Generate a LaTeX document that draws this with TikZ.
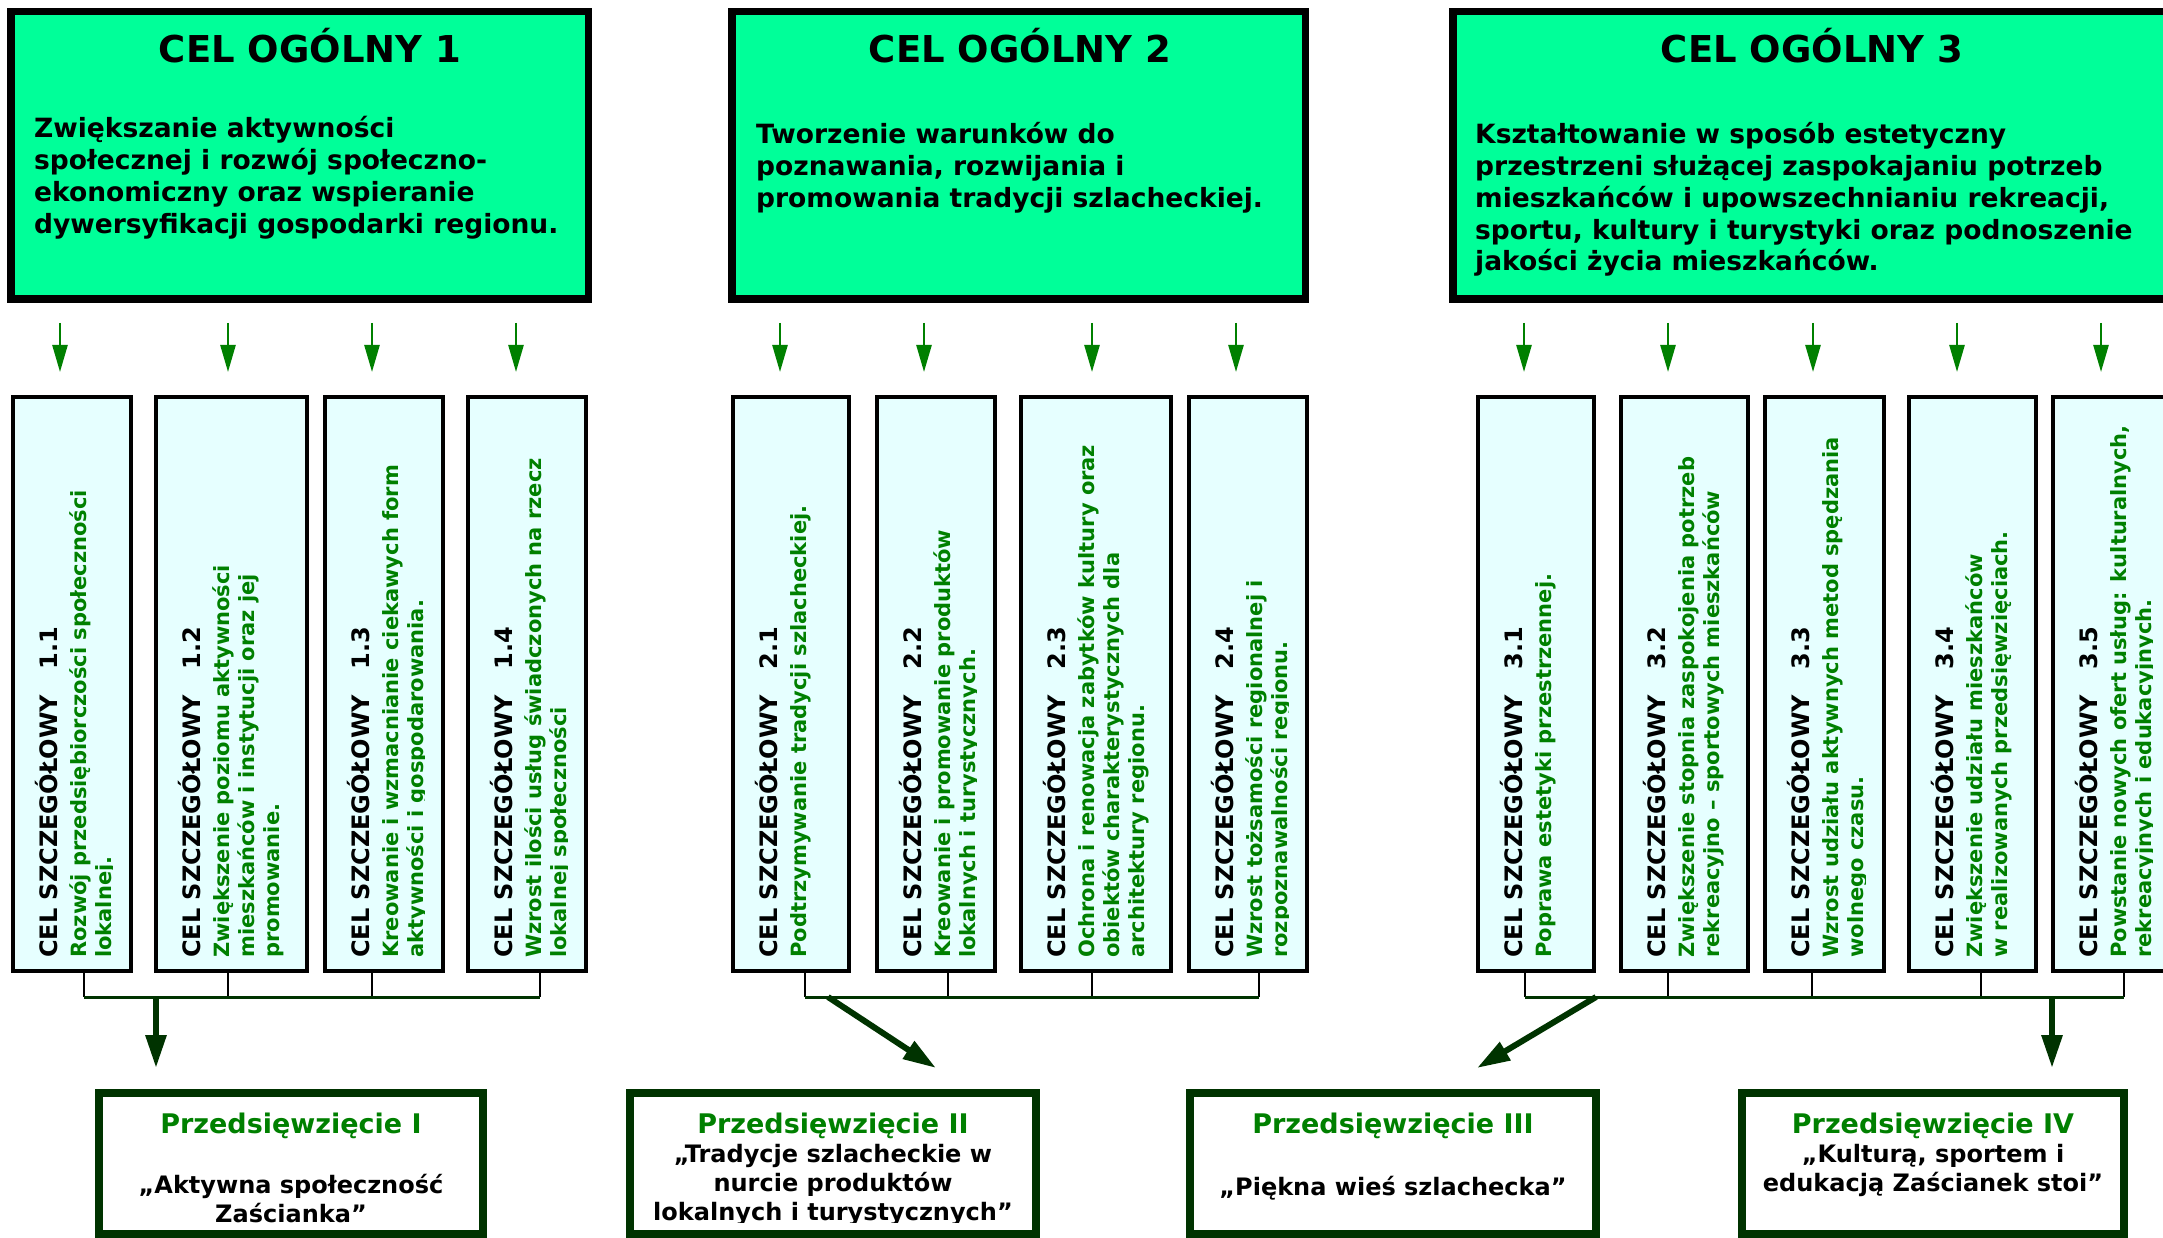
\documentclass[tikz,border=0pt]{standalone}
\usepackage{fontspec}
\setmainfont{DejaVu Sans}
\usetikzlibrary{arrows.meta}
\definecolor{topfill}{HTML}{00FF99}
\definecolor{cellfill}{HTML}{E6FFFF}
\definecolor{txtgreen}{HTML}{008000}
\definecolor{dkgreen}{HTML}{003300}
\tikzset{
  goalbox/.style={draw=black, line width=7.5pt, fill=topfill, inner sep=0pt, outer sep=0pt},
  cellbox/.style={draw=black, line width=4pt, fill=cellfill, inner sep=0pt, outer sep=0pt},
  projbox/.style={draw=dkgreen, line width=8pt, fill=white, inner sep=0pt, outer sep=0pt},
  toparrow/.style={draw=txtgreen, line width=2.5pt, -{Triangle[width=15pt,length=27pt]}},
  bigarrow/.style={draw=dkgreen, line width=6pt, -{Triangle[width=20pt,length=33pt]}},
  stubline/.style={draw=black, line width=1.3pt},
  bracketline/.style={draw=dkgreen, line width=3pt},
  cellhead/.style={rotate=90, anchor=base west, inner sep=0pt, font=\bfseries\fontsize{24}{29}\selectfont},
  cellbody/.style={rotate=90, anchor=base west, inner sep=0pt, text=txtgreen, font=\bfseries\fontsize{21}{25}\selectfont},
  goaltitle/.style={anchor=base, inner sep=0pt, font=\bfseries\fontsize{37}{44}\selectfont},
  goaltext/.style={anchor=base west, inner sep=0pt, font=\bfseries\fontsize{26.5}{31.7}\selectfont},
  projtitle/.style={anchor=base, inner sep=0pt, text=txtgreen, font=\bfseries\fontsize{27}{32}\selectfont},
  projtext/.style={anchor=base, inner sep=0pt, font=\bfseries\fontsize{24}{29}\selectfont}
}
\newcommand{\cellbx}[5]{%
  \node[cellbox, minimum width={#3-#2-4}, minimum height=574] (#1) at ({(#2+#3)/2}, 684) {};
  \begin{scope}
    \clip (#2, 390) rectangle (#3-21, 980);
    \node[cellhead] (#1h) at (#2+46, 958) {CEL SZCZEGÓŁOWY\hspace{26pt}#4};
    \node[cellbody] (#1b) at (#2+75, 958) {\begin{tabular}[t]{@{}l@{}}#5\end{tabular}};
  \end{scope}}
\begin{document}
\begin{tikzpicture}[x=1pt, y=-1pt]
\begin{scope}
\clip (0,0) rectangle (2163,1238);
% goal boxes
\node[goalbox, minimum width=577.5, minimum height=287.5] (g1) at (299.5,155.5) {};
\node[goalbox, minimum width=573.5, minimum height=287.5] (g2) at (1018.5,155.5) {};
\node[goalbox, minimum width=743.5, minimum height=287.5] (g3) at (1824.5,155.5) {};
\node[goaltitle] (g1t) at (310,63) {CEL OGÓLNY 1};
\node[goaltitle] (g2t) at (1020,63) {CEL OGÓLNY 2};
\node[goaltitle] (g3t) at (1812,63) {CEL OGÓLNY 3};
\node[goaltext] (g1b) at (34,138) {\begin{tabular}[t]{@{}l@{}}Zwiększanie aktywności\\ społecznej i rozwój społeczno-\\ ekonomiczny oraz wspieranie\\ dywersyfikacji gospodarki regionu.\end{tabular}};
\node[goaltext] (g2b) at (756,144) {\begin{tabular}[t]{@{}l@{}}Tworzenie warunków do\\ poznawania, rozwijania i\\ promowania tradycji szlacheckiej.\end{tabular}};
\node[goaltext] (g3b) at (1475,144) {\begin{tabular}[t]{@{}l@{}}Kształtowanie w sposób estetyczny\\ przestrzeni służącej zaspokajaniu potrzeb\\ mieszkańców i upowszechnianiu rekreacji,\\ sportu, kultury i turystyki oraz podnoszenie\\ jakości życia mieszkańców.\end{tabular}};
% top arrows
\foreach \x in {60,228,372,516,780,924,1092,1236,1524,1668,1813,1957,2101}
  \draw[toparrow] (\x,323) -- (\x,372);
% detailed goals
\cellbx{c11}{11}{133}{1.1}{Rozwój przedsiębiorczości społeczności\\ lokalnej.}
\cellbx{c12}{154}{309}{1.2}{Zwiększenie poziomu aktywności\\ mieszkańców i instytucji oraz jej\\ promowanie.}
\cellbx{c13}{323}{445}{1.3}{Kreowanie i wzmacnianie ciekawych form\\ aktywności i gospodarowania.}
\cellbx{c14}{466}{588}{1.4}{Wzrost ilości usług świadczonych na rzecz\\ lokalnej społeczności}
\cellbx{c21}{731}{851}{2.1}{Podtrzymywanie tradycji szlacheckiej.}
\cellbx{c22}{875}{997}{2.2}{Kreowanie i promowanie produktów\\ lokalnych i turystycznych.}
\cellbx{c23}{1019}{1173}{2.3}{Ochrona i renowacja zabytków kultury oraz\\ obiektów charakterystycznych dla\\ architektury regionu.}
\cellbx{c24}{1187}{1309}{2.4}{Wzrost tożsamości regionalnej i\\ rozpoznawalności regionu.}
\cellbx{c31}{1476}{1596}{3.1}{Poprawa estetyki przestrzennej.}
\cellbx{c32}{1619}{1750}{3.2}{Zwiększenie stopnia zaspokojenia potrzeb\\ rekreacyjno – sportowych mieszkańców}
\cellbx{c33}{1763}{1886}{3.3}{Wzrost udziału aktywnych metod spędzania\\ wolnego czasu.}
\cellbx{c34}{1907}{2038}{3.4}{Zwiększenie udziału mieszkańców\\ w realizowanych przedsięwzięciach.}
\cellbx{c35}{2051}{2173}{3.5}{Powstanie nowych ofert usług: kulturalnych,\\ rekreacyjnych i edukacyjnych.}
% stubs
\foreach \x in {84,228,372,540,805,948,1092,1259,1525,1668,1812,1981,2124}
  \draw[stubline] (\x,973) -- (\x,997);
% brackets
\coordinate (k1a) at (84,997);   \coordinate (k1b) at (540,997);
\coordinate (k2a) at (805,997);  \coordinate (k2b) at (1259,997);
\coordinate (k3a) at (1525,997); \coordinate (k3b) at (2124,997);
\draw[bracketline] (k1a) -- (k1b);
\draw[bracketline] (k2a) -- (k2b);
\draw[bracketline] (k3a) -- (k3b);
% project boxes
\node[projbox, minimum width=384, minimum height=141] (p1) at (291,1163.5) {};
\node[projbox, minimum width=406, minimum height=141] (p2) at (833,1163.5) {};
\node[projbox, minimum width=406, minimum height=141] (p3) at (1393,1163.5) {};
\node[projbox, minimum width=382, minimum height=141] (p4) at (1933,1163.5) {};
% big arrows
\coordinate (s1) at (156,997);  \coordinate (e1) at (156,1068);
\coordinate (s2) at (828,997);  \coordinate (e2) at (936,1068);
\coordinate (s3) at (1596,997); \coordinate (e3) at (1477,1068);
\coordinate (s4) at (2052,997); \coordinate (e4) at (2052,1068);
\draw[bigarrow] (s1) -- (e1);
\draw[bigarrow] (s2) -- (e2);
\draw[bigarrow] (s3) -- (e3);
\draw[bigarrow] (s4) -- (e4);
% project texts
\begin{scope}
\clip (0,1080) rectangle (2163,1222);
\node[projtitle] (p1t) at (291,1133) {Przedsięwzięcie I};
\node[projtitle] (p2t) at (833,1133) {Przedsięwzięcie II};
\node[projtitle] (p3t) at (1393,1133) {Przedsięwzięcie III};
\node[projtitle] (p4t) at (1933,1133) {Przedsięwzięcie IV};
\node[projtext] (p1b) at (291,1193) {\begin{tabular}[t]{@{}c@{}}„Aktywna społeczność\\ Zaścianka”\end{tabular}};
\node[projtext] (p2b) at (833,1162) {\begin{tabular}[t]{@{}c@{}}„Tradycje szlacheckie w\\ nurcie produktów\\ lokalnych i turystycznych”\end{tabular}};
\node[projtext] (p3b) at (1393,1195) {„Piękna wieś szlachecka”};
\node[projtext] (p4b) at (1933,1162) {\begin{tabular}[t]{@{}c@{}}„Kulturą, sportem i\\ edukacją Zaścianek stoi”\end{tabular}};
\end{scope}
\end{scope}
\pgfresetboundingbox
\path[use as bounding box] (0,0) rectangle (2163,1238);
\end{tikzpicture}
\end{document}
